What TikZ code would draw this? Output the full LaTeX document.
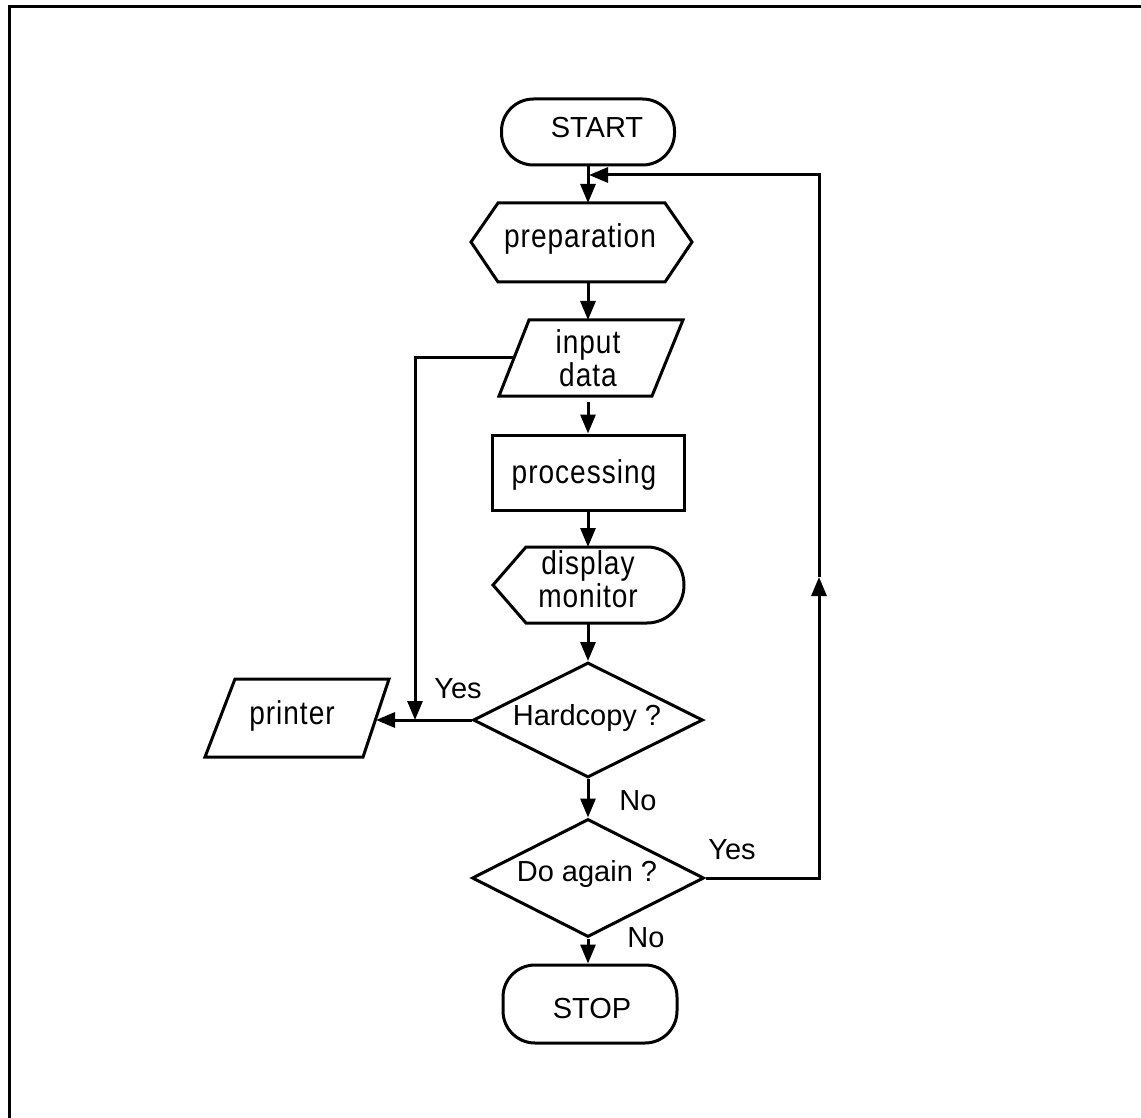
\documentclass[tikz,border=0pt]{standalone}
\usepackage{fontspec}
\setmainfont{Liberation Sans}
\newfontfamily\lowfont[FakeStretch=0.85,LetterSpace=3]{Liberation Sans}
\usetikzlibrary{arrows.meta,shapes.geometric}
\begin{document}
\begin{tikzpicture}[x=0.5pt,y=-0.5pt,line width=1.5pt,
  term/.style={draw,rounded corners=16pt,inner sep=0pt},
  diam/.style={draw,diamond,inner sep=0pt},
  boxshape/.style={draw,inner sep=0pt},
  uptext/.style={font=\fontsize{14.5}{16}\selectfont,inner sep=0pt},
  lowtext/.style={font=\lowfont\fontsize{16.5}{16.5}\selectfont,inner sep=0pt,align=center},
  arr/.style={-{Triangle[length=9.5pt,width=7.5pt]}}]
\useasboundingbox (0,0) rectangle (1141,1118);
\draw[line width=1.5pt] (9,1118) -- (9,7) -- (1141,7);

% START
\node[term,minimum width=86.5pt,minimum height=33pt] (start) at (588,132) {};
\node[uptext,anchor=base] (tstart) at (597,138) {START};

% preparation
\draw (471,242) -- (498,203) -- (665,203) -- (692,242) -- (665,282) -- (498,282) -- cycle;
\coordinate (prepT) at (588,203);
\coordinate (prepB) at (588,282);
\node[lowtext,anchor=base] (tprep) at (580,248) {preparation};

% input data
\draw (529,320) -- (683,320) -- (652,396) -- (499,396) -- cycle;
\coordinate (inT) at (588,320);
\coordinate (inB) at (588,402);
\coordinate (inL) at (514,358);
\coordinate (inLc) at (415,358);
\node[lowtext] (tin) at (588,358) {input\\data};

% processing
\node[boxshape,minimum width=96pt,minimum height=37.5pt] (proc) at (588,472.5) {};
\node[lowtext,anchor=base] (tproc) at (584,483) {processing};

% display monitor
\draw (493,585) -- (526,547) -- (647,547) arc[start angle=90,end angle=-90,x radius=18.5pt,y radius=19pt] -- (526,623) -- cycle;
\coordinate (dispT) at (588,547);
\coordinate (dispB) at (588,623);
\node[lowtext] (tdisp) at (588,579) {display\\monitor};

% Hardcopy ?
\node[diam,minimum width=115pt,minimum height=57.5pt] (hc) at (588,720) {};
\node[uptext,anchor=base] (thc) at (587,725) {Hardcopy ?};

% printer
\draw (235,679) -- (389,679) -- (363,757) -- (205,757) -- cycle;
\coordinate (prR) at (376,720);
\coordinate (brk) at (415,720);
\node[lowtext,anchor=base] (tpr) at (292,724) {printer};

% Do again ?
\node[diam,minimum width=116pt,minimum height=59pt] (da) at (588,878) {};
\node[uptext,anchor=base] (tda) at (587,881) {Do again ?};

% STOP
\node[term,minimum width=87pt,minimum height=39pt] (stop) at (590,1004) {};
\node[uptext,anchor=base] (tstop) at (592,1018) {STOP};

% feedback loop points
\coordinate (fbBR) at (819,878);
\coordinate (fbMid) at (819,577);
\coordinate (fbTR) at (819,175);
\coordinate (join) at (589,175);

% connectors
\draw[arr] (start.south) -- (prepT);
\draw[arr] (prepB) -- (inT);
\draw[arr] (inB) -- (proc.north);
\draw[arr] (proc.south) -- (dispT);
\draw[arr] (dispB) -- (hc.north);
\draw[arr] (hc.south) -- (da.north);
\draw[arr] (da.south) -- (da.south |- stop.north);
\draw[arr] (hc.west) -- (prR);
\draw[arr] (inL) -- (inLc) -- (brk);
\draw[arr] (da.east) -- (fbBR) -- (fbMid);
\draw[arr] (fbMid) -- (fbTR) -- (join);

% labels
\node[uptext,anchor=base] (yes1) at (458,698) {Yes};
\node[uptext,anchor=base] (no1) at (638,810) {No};
\node[uptext,anchor=base] (yes2) at (732,859) {Yes};
\node[uptext,anchor=base] (no2) at (646,947) {No};
\end{tikzpicture}
\end{document}
